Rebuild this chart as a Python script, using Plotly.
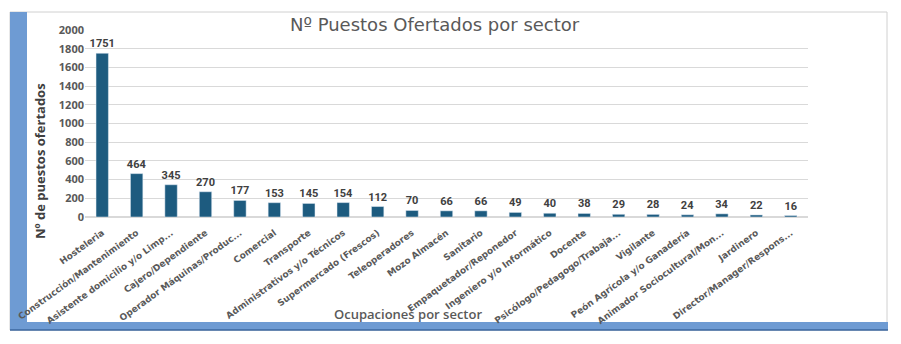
import plotly.graph_objects as go

categories = [
    "Hosteleria", "Construcción/Mantenimiento", "Asistente domicilio y/o Limp...",
    "Cajero/Dependiente", "Operador Máquinas/Produc...", "Comercial", "Transporte",
    "Administrativos y/o Técnicos", "Supermercado (Frescos)", "Teleoperadores",
    "Mozo Almacén", "Sanitario", "Empaquetador/Reponedor", "Ingeniero y/o Informático",
    "Docente", "Psicólogo/Pedagogo/Trabaja...", "Vigilante", "Peón Agrícola y/o Ganadería",
    "Animador Sociocultural/Mon...", "Jardinero", "Director/Manager/Respons...",
]
values = [1751, 464, 345, 270, 177, 153, 145, 154, 112, 70, 66, 66, 49, 40, 38, 29, 28, 24, 34, 22, 16]
y_ticks = list(range(0, 2001, 200))

W, H = 901, 344
L, R, T, B = 85, 93, 30, 127
PW, PH = W - L - R, H - T - B

fig = go.Figure()
fig.add_trace(go.Bar(
    x=categories, y=values, marker_color="#1d5b7f",
    text=values, textposition="outside", cliponaxis=False, constraintext="none",
    textfont=dict(family="Roboto", size=11, color="#404040", weight="bold"),
))

fig.update_layout(
    width=W, height=H,
    margin=dict(l=L, r=R, t=T, b=B),
    paper_bgcolor="white", plot_bgcolor="white",
    bargap=0.64, showlegend=False,
    font=dict(family="Roboto", color="#595959"),
    xaxis=dict(tickangle=-36, tickfont=dict(family="DejaVu Sans", size=9, color="#595959", weight="bold"),
               showgrid=False, showline=False, ticks="", automargin=False, ticklabelstandoff=8),
    yaxis=dict(range=[0, 2000], tickvals=y_ticks, showgrid=True, gridcolor="#d9d9d9", gridwidth=1,
               zeroline=True, zerolinecolor="#d9d9d9",
               tickfont=dict(family="Open Sans", size=11, color="#595959", weight="bold"),
               ticks="", ticklen=0, automargin=False),
)


def px(x):
    return (x - L) / PW


def py(y):
    return (H - B - y) / PH


shapes = [
    dict(type="rect", xref="paper", yref="paper", x0=px(10), x1=px(887), y0=py(330), y1=py(12),
         line=dict(color="#d0d0d0", width=1), fillcolor="rgba(0,0,0,0)", layer="below"),
    dict(type="rect", xref="paper", yref="paper", x0=px(10), x1=px(27), y0=py(330), y1=py(12),
         line=dict(width=0), fillcolor="#6e9bd3", layer="below"),
    dict(type="rect", xref="paper", yref="paper", x0=px(10), x1=px(888), y0=py(330), y1=py(322),
         line=dict(width=0), fillcolor="#6e9bd3", layer="below"),
    dict(type="line", xref="paper", yref="paper", x0=px(10), x1=px(888), y0=py(330), y1=py(330),
         line=dict(color="#3d679f", width=1.5), layer="below"),
]
fig.update_layout(shapes=shapes)

fig.add_annotation(text="Nº Puestos Ofertados por sector", xref="paper", yref="paper",
                   x=px(435), y=py(25), xanchor="center", yanchor="middle", showarrow=False,
                   font=dict(family="DejaVu Sans", size=18, color="#595959"))
fig.add_annotation(text="Nº de puestos ofertados", xref="paper", yref="paper",
                   x=px(40), y=py(161), xanchor="center", yanchor="middle", showarrow=False, textangle=-90,
                   font=dict(family="Open Sans", size=13, color="#404040", weight="bold"))
fig.add_annotation(text="Ocupaciones por sector", xref="paper", yref="paper",
                   x=px(408), y=py(314), xanchor="center", yanchor="middle", showarrow=False,
                   font=dict(family="Open Sans", size=13, color="#595959", weight=600))

fig.write_html("out.html")
